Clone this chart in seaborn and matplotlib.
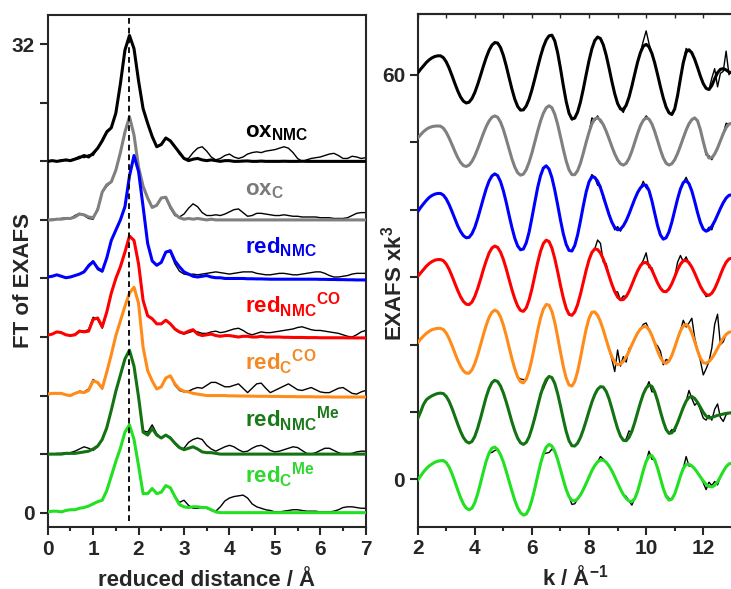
import numpy as np
import matplotlib
matplotlib.use("Agg")
import matplotlib.pyplot as plt
import seaborn as sns

# ---------------- data ----------------
# Left panel: FT of EXAFS, reduced distance grid (Angstrom)
r_grid = np.round(np.arange(0.0, 7.05, 0.1), 1)
ft_peak_r = 1.8            # dashed reference line position
ft_offsets = [24, 20, 16, 12, 8, 4, 0]
ft_fit = {
    "ox_nmc": [0.0, 0.05, 0.0, 0.05, 0.1, 0.05, 0.15, 0.25, 0.4, 0.3,
               0.55, 0.9, 1.4, 2.0, 2.3, 3.3, 5.3, 7.6, 8.6, 7.7,
               5.5, 3.6, 2.6, 1.7, 1.0, 1.15, 1.6, 1.4, 1.0, 0.6,
               0.2, 0.05, 0.15, 0.2, 0.1, 0.05, 0.1, 0.05, 0.0, 0.05,
               0.05, 0.0, 0.0, 0.02, 0.03, 0.0, 0.0, 0.02, 0.0, 0.0,
               0.0, 0.0, 0.01, 0.0, 0.0, 0.0, 0.01, 0.0, 0.0, 0.0,
               0.0, 0.0, 0.0, 0.0, 0.0, 0.0, 0.0, 0.0, 0.0, 0.0, 0.0],
    "ox_c": [0.0, 0.0, 0.05, 0.05, 0.1, 0.1, 0.2, 0.4, 0.35, 0.2,
             0.15, 0.7, 1.9, 2.4, 2.6, 3.4, 4.6, 6.0, 7.05, 5.8,
             3.6, 2.3, 1.5, 0.85, 1.0, 1.5, 1.55, 0.9, 0.4, 0.15,
             0.05, 0.1, 0.05, 0.1, 0.05, 0.0, 0.05, 0.0, 0.0, 0.0,
             0.0, 0.0, 0.0, 0.0, 0.0, 0.0, 0.0, 0.0, 0.0, 0.0,
             0.0, 0.0, 0.0, 0.0, 0.0, 0.0, 0.0, 0.0, 0.0, 0.0,
             0.0, 0.0, 0.0, 0.0, 0.0, 0.0, 0.0, 0.0, 0.0, 0.0, 0.0],
    "red_nmc": [0.1, 0.15, 0.25, 0.15, 0.05, 0.1, 0.2, 0.3, 0.45, 0.85,
                1.15, 0.7, 0.5, 1.4, 2.6, 3.3, 4.0, 4.9, 7.0, 8.4,
                7.3, 4.9, 2.4, 1.2, 0.9, 1.1, 1.8, 1.9, 1.2, 0.8,
                0.45, 0.3, 0.15, 0.1, 0.15, 0.2, 0.1, 0.05, 0.05, 0.0,
                0.0, 0.0, 0.0, 0.0, -0.02, -0.02, -0.03, -0.03, -0.04, -0.05,
                -0.05, -0.05, -0.05, -0.05, -0.05, -0.05, -0.05, -0.05, -0.05, -0.05,
                -0.06, -0.06, -0.07, -0.07, -0.08, -0.08, -0.09, -0.09, -0.1, -0.1, -0.1],
    "red_nmc_co": [0.13, 0.2, 0.35, 0.3, 0.15, 0.1, 0.15, 0.4, 0.35, 0.4,
                   1.2, 1.3, 0.7, 1.7, 3.0, 4.0, 4.8, 5.8, 6.9, 6.6,
                   5.0, 2.5, 1.45, 1.25, 0.9, 0.9, 1.15, 0.9, 0.55, 0.35,
                   0.25, 0.4, 0.5, 0.2, 0.1, 0.15, 0.2, 0.1, 0.05, 0.1,
                   0.1, 0.05, 0.0, 0.05, 0.05, 0.0, 0.0, 0.05, 0.0, 0.0,
                   0.0, 0.0, -0.02, -0.02, -0.03, -0.03, -0.03, -0.04, -0.04, -0.04,
                   -0.05, -0.05, -0.05, -0.05, -0.05, -0.05, -0.06, -0.06, -0.06, -0.06, -0.06],
    "red_c_co": [0.1, 0.15, 0.15, 0.15, 0.05, 0.0, 0.15, 0.25, 0.2, 0.35,
                 1.0, 0.9, 0.5, 1.6, 2.8, 4.1, 5.1, 6.1, 7.0, 7.4,
                 6.3, 3.3, 1.7, 1.0, 0.45, 0.6, 1.2, 1.35, 0.8, 0.45,
                 0.3, 0.25, 0.15, 0.1, 0.05, 0.0, 0.0, 0.0, 0.0, 0.0,
                 -0.02, -0.02, -0.03, -0.03, -0.04, -0.04, -0.05, -0.05, -0.05, -0.06,
                 -0.06, -0.06, -0.07, -0.07, -0.07, -0.08, -0.08, -0.08, -0.08, -0.09,
                 -0.09, -0.09, -0.09, -0.1, -0.1, -0.1, -0.1, -0.1, -0.1, -0.1, -0.1],
    "red_nmc_me": [0.0, 0.0, 0.0, 0.0, 0.05, 0.05, 0.05, 0.1, 0.15, 0.2,
                   0.35, 0.55, 1.0, 1.8, 3.0, 4.3, 5.4, 6.5, 7.1, 6.0,
                   3.9, 1.5, 1.3, 1.75, 1.3, 1.1, 1.3, 1.1, 0.75, 0.45,
                   0.3, 0.4, 0.5, 0.35, 0.15, 0.1, 0.1, 0.05, 0.0, 0.0,
                   0.0, 0.0, 0.0, 0.0, 0.0, 0.0, 0.0, 0.0, 0.0, 0.0,
                   0.0, 0.0, 0.0, 0.0, 0.0, 0.0, 0.0, 0.0, 0.0, 0.0,
                   0.0, 0.0, 0.0, 0.0, 0.0, 0.0, 0.0, 0.0, 0.0, 0.0, 0.0],
    "red_c_me": [0.05, 0.1, 0.1, 0.05, 0.15, 0.2, 0.2, 0.3, 0.35, 0.45,
                 0.6, 0.75, 0.85, 1.5, 2.5, 3.5, 4.4, 5.5, 6.0, 5.0,
                 3.2, 1.3, 1.3, 1.65, 1.3, 1.4, 1.85, 1.7, 1.1, 0.55,
                 0.4, 0.35, 0.4, 0.4, 0.35, 0.35, 0.2, 0.05, 0.0, 0.0,
                 0.0, 0.0, 0.0, 0.0, 0.0, 0.0, 0.0, 0.0, 0.0, 0.0,
                 0.0, 0.0, 0.0, 0.0, 0.0, 0.0, 0.0, 0.0, 0.0, 0.0,
                 0.0, 0.0, 0.0, 0.0, 0.0, 0.0, 0.0, 0.0, 0.0, 0.0, 0.0],
}
ft_exp = {
    "ox_nmc": [0.0, 0.05, 0.0, 0.1, 0.05, 0.1, 0.2, 0.35, 0.25, 0.45,
               0.4, 0.9, 1.5, 2.1, 2.3, 3.3, 5.3, 7.6, 8.6, 7.7,
               5.5, 3.6, 2.6, 1.7, 1.0, 1.2, 1.6, 1.4, 1.0, 0.5,
               0.2, 0.2, 0.6, 0.9, 1.0, 0.7, 0.3, 0.1, 0.2, 0.4,
               0.5, 0.3, 0.2, 0.3, 0.5, 0.6, 0.65, 0.6, 0.7, 0.75,
               0.8, 0.9, 1.0, 0.9, 0.6, 0.2, 0.0, 0.1, 0.2, 0.25,
               0.3, 0.4, 0.5, 0.55, 0.4, 0.2, 0.2, 0.35, 0.3, 0.2, 0.25],
    "ox_c": [0.0, 0.05, 0.05, 0.1, 0.15, 0.1, 0.3, 0.45, 0.3, 0.1,
             0.05, 0.8, 1.9, 2.3, 2.6, 3.4, 4.6, 6.0, 7.05, 5.8,
             3.6, 2.3, 1.5, 0.9, 1.0, 1.5, 1.5, 0.8, 0.3, 0.2,
             0.4, 0.8, 1.1, 0.9, 0.5, 0.3, 0.3, 0.35, 0.3, 0.4,
             0.55, 0.7, 0.75, 0.5, 0.25, 0.3, 0.45, 0.45, 0.4, 0.35,
             0.3, 0.3, 0.35, 0.3, 0.25, 0.25, 0.2, 0.2, 0.2, 0.2,
             0.15, 0.15, 0.15, 0.1, 0.1, 0.1, 0.15, 0.3, 0.45, 0.5, 0.5],
    "red_nmc": [0.1, 0.15, 0.25, 0.15, 0.05, 0.1, 0.2, 0.3, 0.5, 0.95,
                1.2, 0.6, 0.45, 1.4, 2.6, 3.3, 4.0, 4.9, 7.0, 8.4,
                7.3, 4.9, 2.4, 1.2, 0.9, 1.1, 1.8, 1.8, 1.0, 0.5,
                0.3, 0.25, 0.3, 0.25, 0.3, 0.35, 0.4, 0.45, 0.4, 0.35,
                0.3, 0.35, 0.4, 0.45, 0.45, 0.45, 0.35, 0.3, 0.25, 0.25,
                0.3, 0.35, 0.35, 0.3, 0.25, 0.25, 0.3, 0.35, 0.4, 0.45,
                0.45, 0.35, 0.2, 0.1, 0.1, 0.15, 0.2, 0.3, 0.35, 0.35, 0.35],
    "red_nmc_co": [0.13, 0.2, 0.35, 0.3, 0.15, 0.1, 0.2, 0.45, 0.4, 0.5,
                   1.35, 1.2, 0.6, 1.7, 3.0, 4.0, 4.8, 5.8, 6.9, 6.6,
                   5.0, 2.5, 1.45, 1.25, 0.9, 0.9, 1.15, 0.9, 0.5, 0.3,
                   0.2, 0.3, 0.4, 0.35, 0.25, 0.25, 0.35, 0.4, 0.3, 0.35,
                   0.45, 0.55, 0.6, 0.45, 0.25, 0.15, 0.25, 0.35, 0.3, 0.3,
                   0.35, 0.4, 0.45, 0.5, 0.55, 0.65, 0.7, 0.6, 0.5, 0.45,
                   0.45, 0.4, 0.35, 0.3, 0.25, 0.15, 0.05, 0.0, 0.15, 0.35, 0.45],
    "red_c_co": [0.1, 0.15, 0.15, 0.15, 0.05, 0.0, 0.15, 0.3, 0.25, 0.45,
                 1.1, 0.85, 0.45, 1.6, 2.8, 4.1, 5.1, 6.1, 7.0, 7.4,
                 6.3, 3.3, 1.7, 1.0, 0.45, 0.6, 1.2, 1.35, 0.7, 0.35,
                 0.25, 0.3, 0.45, 0.55, 0.5, 0.7, 0.9, 0.9, 0.75, 0.6,
                 0.6, 0.7, 0.8, 0.5, 0.2, 0.5, 0.8, 0.85, 0.5, 0.2,
                 0.35, 0.5, 0.65, 0.8, 0.6, 0.4, 0.35, 0.45, 0.55, 0.4,
                 0.25, 0.2, 0.2, 0.35, 0.5, 0.55, 0.35, 0.15, 0.1, 0.25, 0.35],
    "red_nmc_me": [0.0, 0.0, 0.05, 0.05, 0.1, 0.1, 0.2, 0.35, 0.5, 0.4,
                   0.25, 0.5, 1.0, 1.8, 3.0, 4.3, 5.4, 6.5, 7.1, 6.0,
                   3.9, 1.6, 1.5, 2.0, 1.4, 1.1, 1.3, 1.15, 0.7, 0.4,
                   0.4, 0.8, 1.0, 1.1, 1.0, 0.6, 0.35, 0.2, 0.35, 0.5,
                   0.6, 0.5, 0.3, 0.15, 0.2, 0.4, 0.55, 0.6, 0.45, 0.25,
                   0.15, 0.2, 0.3, 0.4, 0.5, 0.45, 0.25, 0.05, 0.0, 0.1,
                   0.25, 0.4, 0.4, 0.25, 0.1, 0.0, 0.0, 0.05, 0.15, 0.2, 0.2],
    "red_c_me": [0.05, 0.1, 0.1, 0.05, 0.15, 0.2, 0.2, 0.3, 0.35, 0.45,
                 0.6, 0.75, 0.85, 1.5, 2.5, 3.5, 4.4, 5.5, 6.0, 5.0,
                 3.2, 1.3, 1.3, 1.65, 1.3, 1.4, 1.85, 1.7, 1.1, 0.7,
                 0.85, 0.5, 0.3, 0.3, 0.35, 0.3, 0.15, 0.1, 0.4, 0.8,
                 1.0, 1.1, 1.15, 1.2, 1.0, 0.6, 0.4, 0.3, 0.2, 0.15,
                 0.05, 0.05, 0.1, 0.15, 0.2, 0.2, 0.15, 0.1, 0.1, 0.1,
                 0.05, 0.05, 0.05, 0.1, 0.2, 0.35, 0.4, 0.4, 0.35, 0.3, 0.3],
}

# Right panel: EXAFS k^3 weighted, k grid (1/Angstrom)
k_grid = np.round(np.arange(2.0, 13.05, 0.1), 1)
ex_offsets = [60, 50, 40, 30, 20, 10, 0]
ex_fit = {
    "ox_nmc": [0.25, 0.8, 1.3, 1.8, 2.2, 2.5, 2.7, 2.8, 2.8, 2.52,
               1.90, 0.99, -0.12, -1.28, -2.38, -3.30, -3.92, -4.19, -4.07, -3.53,
               -2.63, -1.45, -0.11, 1.27, 2.55, 3.63, 4.39, 4.77, 4.69, 4.03,
               2.86, 1.31, -0.43, -2.14, -3.63, -4.70, -5.25, -5.21, -4.64, -3.63,
               -2.24, -0.63, 1.07, 2.71, 4.11, 5.16, 5.77, 5.86, 5.02, 3.28,
               0.93, -1.64, -3.97, -5.72, -6.56, -6.42, -5.53, -4.04, -2.10, 0.04,
               2.10, 3.85, 5.06, 5.59, 5.36, 4.42, 2.9, 1.01, -1.0, -2.83,
               -4.27, -5.07, -5.15, -4.53, -3.33, -1.70, 0.11, 1.87, 3.29, 4.22,
               4.5, 4.12, 3.17, 1.75, 0.02, -1.79, -3.46, -4.81, -5.65, -5.9,
               -5.07, -3.10, -0.59, 1.78, 3.35, 3.7, 3.23, 2.28, 1.07, -0.22,
               -1.32, -2.02, -2.2, -1.6, -0.6, 0.3, 0.8, 0.9, 0.7, 0.4,
               0.3],
    "ox_c": [0.6, 1.1, 1.55, 1.9, 2.15, 2.3, 2.38, 2.4, 2.37, 2.07,
             1.46, 0.62, -0.35, -1.35, -2.27, -3.0, -3.46, -3.6, -3.39, -2.85,
             -2.03, -0.99, 0.15, 1.30, 2.33, 3.14, 3.69, 3.9, 3.69, 2.98,
             1.88, 0.47, -1.02, -2.48, -3.69, -4.53, -4.89, -4.74, -4.08, -2.98,
             -1.59, 0.01, 1.62, 3.10, 4.29, 5.09, 5.4, 5.11, 4.14, 2.66,
             0.83, -1.07, -2.80, -4.11, -4.81, -4.82, -4.22, -3.11, -1.61, 0.0,
             1.48, 2.73, 3.45, 3.6, 3.26, 2.59, 1.63, 0.52, -0.66, -1.74,
             -2.62, -3.2, -3.4, -3.14, -2.41, -1.33, -0.03, 1.29, 2.45, 3.24,
             3.6, 3.42, 2.72, 1.59, 0.24, -1.14, -2.34, -3.12, -3.4, -3.19,
             -2.6, -1.68, -0.55, 0.64, 1.79, 2.73, 3.35, 3.6, 3.17, 1.83,
             0.06, -1.52, -2.35, -2.29, -1.75, -0.87, 0.2, 1.27, 2.15, 2.69,
             2.8],
    "red_nmc": [-0.3, 0.3, 0.85, 1.35, 1.8, 2.1, 2.3, 2.4, 2.4, 2.15,
                1.58, 0.75, -0.26, -1.33, -2.39, -3.23, -3.86, -4.17, -4.11, -3.57,
                -2.63, -1.32, 0.16, 1.68, 3.10, 4.25, 5.0, 5.3, 5.04, 4.16,
                2.79, 1.08, -0.83, -2.66, -4.25, -5.38, -5.95, -5.84, -4.93, -3.35,
                -1.21, 1.05, 3.26, 5.01, 6.16, 6.5, 6.0, 4.75, 2.9, 0.73,
                -1.55, -3.60, -5.16, -6.05, -6.13, -5.32, -3.74, -1.66, 0.58, 2.63,
                4.13, 4.86, 4.78, 4.21, 3.25, 1.98, 0.6, -0.73, -1.87, -2.65,
                -2.99, -2.88, -2.41, -1.64, -0.65, 0.47, 1.56, 2.53, 3.23, 3.63,
                3.63, 2.84, 1.33, -0.54, -2.38, -3.76, -4.38, -4.17, -3.28, -1.85,
                -0.13, 1.59, 3.05, 4.01, 4.3, 3.85, 2.76, 1.22, -0.45, -1.91,
                -2.89, -3.2, -3.0, -2.47, -1.72, -0.79, 0.17, 1.03, 1.71, 2.12,
                2.2],
    "red_nmc_co": [0.1, 0.6, 1.1, 1.6, 2.0, 2.3, 2.5, 2.6, 2.6, 2.43,
                   1.93, 1.15, 0.16, -0.91, -1.97, -2.91, -3.61, -4.02, -4.08, -3.70,
                   -2.86, -1.70, -0.34, 1.12, 2.43, 3.58, 4.31, 4.6, 4.40, 3.70,
                   2.62, 1.22, -0.33, -1.87, -3.22, -4.29, -4.94, -5.08, -4.58, -3.40,
                   -1.75, 0.2, 2.13, 3.80, 4.98, 5.48, 5.26, 4.31, 2.75, 0.83,
                   -1.24, -3.12, -4.63, -5.52, -5.67, -5.16, -4.07, -2.52, -0.75, 1.03,
                   2.57, 3.66, 4.17, 4.09, 3.56, 2.66, 1.5, 0.21, -1.08, -2.17,
                   -2.96, -3.36, -3.33, -2.89, -2.13, -1.13, -0.07, 0.91, 1.69, 2.13,
                   2.16, 1.78, 1.05, 0.1, -0.87, -1.65, -2.12, -2.16, -1.75, -0.97,
                   0.05, 1.08, 1.91, 2.42, 2.47, 2.13, 1.47, 0.59, -0.40, -1.35,
                   -2.10, -2.58, -2.7, -2.39, -1.71, -0.76, 0.33, 1.37, 2.19, 2.69,
                   2.8],
    "red_c_co": [0.3, 0.8, 1.25, 1.65, 1.95, 2.2, 2.33, 2.4, 2.4, 2.22,
                 1.70, 0.88, -0.13, -1.22, -2.31, -3.22, -3.89, -4.25, -4.24, -3.75,
                 -2.81, -1.53, -0.06, 1.47, 2.87, 4.04, 4.79, 5.1, 4.87, 4.10,
                 2.89, 1.34, -0.39, -2.10, -3.60, -4.80, -5.52, -5.68, -5.14, -3.91,
                 -2.14, -0.07, 2.05, 3.91, 5.25, 5.94, 5.84, 4.90, 3.29, 1.15,
                 -1.13, -3.27, -4.98, -5.99, -6.16, -5.46, -3.98, -1.97, 0.24, 2.32,
                 3.89, 4.79, 4.84, 4.34, 3.40, 2.15, 0.74, -0.65, -1.82, -2.63,
                 -2.99, -2.90, -2.50, -1.84, -1.0, -0.05, 0.88, 1.71, 2.30, 2.64,
                 2.66, 2.21, 1.35, 0.24, -0.93, -1.93, -2.60, -2.8, -2.45, -1.61,
                 -0.42, 0.87, 2.01, 2.76, 3.0, 2.62, 1.71, 0.44, -0.90, -2.02,
                 -2.68, -2.78, -2.53, -2.04, -1.35, -0.57, 0.23, 0.95, 1.50, 1.83,
                 1.9],
    "red_nmc_me": [-1.0, 0.0, 1.1, 1.8, 2.15, 2.4, 2.6, 2.75, 2.8, 2.73,
                   2.31, 1.58, 0.56, -0.60, -1.78, -2.88, -3.78, -4.37, -4.6, -4.37,
                   -3.62, -2.40, -0.92, 0.69, 2.26, 3.51, 4.36, 4.7, 4.51, 3.86,
                   2.82, 1.50, 0.03, -1.48, -2.80, -3.87, -4.56, -4.8, -4.51, -3.69,
                   -2.39, -0.86, 0.85, 2.51, 3.85, 4.82, 5.27, 5.11, 4.24, 2.75,
                   0.90, -1.08, -2.89, -4.26, -5.0, -5.04, -4.61, -3.77, -2.61, -1.28,
                   0.13, 1.48, 2.57, 3.37, 3.76, 3.69, 3.06, 1.96, 0.52, -1.02,
                   -2.44, -3.56, -4.19, -4.26, -3.78, -2.85, -1.56, -0.07, 1.39, 2.66,
                   3.55, 3.98, 3.82, 2.99, 1.67, 0.07, -1.40, -2.60, -3.17, -3.08,
                   -2.51, -1.58, -0.45, 0.68, 1.61, 2.18, 2.3, 2.0, 1.44, 0.7,
                   -0.04, -0.6, -0.88, -0.8, -0.65, -0.5, -0.4, -0.3, -0.2, -0.15,
                   -0.1],
    "red_c_me": [-0.1, 0.5, 1.1, 1.6, 2.0, 2.3, 2.55, 2.7, 2.78, 2.8,
                 2.50, 1.84, 0.87, -0.30, -1.53, -2.68, -3.62, -4.25, -4.5, -4.25,
                 -3.43, -2.13, -0.53, 1.16, 2.74, 3.92, 4.65, 4.8, 4.43, 3.68,
                 2.59, 1.22, -0.25, -1.72, -3.09, -4.18, -4.93, -5.28, -5.14, -4.36,
                 -3.04, -1.36, 0.51, 2.31, 3.78, 4.80, 5.2, 4.96, 4.18, 2.97,
                 1.47, -0.08, -1.49, -2.55, -3.12, -3.16, -2.86, -2.29, -1.49, -0.58,
                 0.38, 1.31, 2.06, 2.60, 2.88, 2.85, 2.56, 2.0, 1.28, 0.40,
                 -0.52, -1.43, -2.23, -2.81, -3.19, -3.3, -2.84, -1.77, -0.25, 1.34,
                 2.67, 3.46, 3.54, 2.90, 1.69, 0.18, -1.35, -2.49, -3.07, -2.92,
                 -2.14, -0.88, 0.49, 1.63, 2.24, 2.26, 2.01, 1.58, 1.0, 0.38,
                 -0.22, -0.70, -1.01, -1.1, -0.88, -0.34, 0.41, 1.21, 1.89, 2.31,
                 2.4],
}
ex_exp = {
    "ox_nmc": [0.25, 0.8, 1.3, 1.8, 2.2, 2.5, 2.7, 2.8, 2.8, 2.52,
               1.90, 0.99, -0.12, -1.28, -2.38, -3.30, -3.92, -4.19, -4.07, -3.53,
               -2.63, -1.45, -0.11, 1.27, 2.55, 3.63, 4.39, 4.77, 4.69, 4.03,
               2.86, 1.31, -0.43, -2.14, -3.63, -4.70, -5.25, -5.21, -4.64, -3.63,
               -2.24, -0.63, 1.07, 2.71, 4.11, 5.16, 5.77, 5.86, 5.02, 3.28,
               0.93, -1.64, -3.97, -5.72, -6.7, -6.5, -5.53, -4.04, -2.10, 0.04,
               2.10, 3.85, 5.06, 5.59, 5.36, 4.42, 2.9, 1.01, -1.0, -2.83,
               -4.27, -5.07, -5.6, -4.53, -3.33, -1.70, 0.11, 1.87, 3.29, 5.0,
               6.5, 4.6, 3.17, 1.75, 0.02, -1.79, -3.46, -4.81, -5.65, -5.9,
               -5.07, -3.10, -0.59, 1.78, 3.9, 3.5, 3.4, 2.28, 1.07, -0.22,
               -1.32, -2.02, -2.2, -0.5, 0.9, -1.8, 0.2, 0.5, 3.5, 0.0,
               0.5],
    "ox_c": [0.6, 1.1, 1.55, 1.9, 2.15, 2.3, 2.38, 2.4, 2.37, 2.07,
             1.46, 0.62, -0.35, -1.35, -2.27, -3.0, -3.46, -3.6, -3.39, -2.85,
             -2.03, -0.99, 0.15, 1.30, 2.33, 3.14, 3.69, 3.9, 3.69, 2.98,
             1.88, 0.47, -1.02, -2.48, -3.69, -4.53, -4.89, -4.74, -4.08, -2.98,
             -1.59, 0.01, 1.62, 3.10, 4.29, 5.09, 5.4, 5.11, 4.14, 2.66,
             0.83, -1.07, -2.80, -4.11, -4.81, -4.82, -4.22, -3.11, -1.61, 0.0,
             1.48, 3.6, 3.2, 3.9, 3.0, 2.59, 1.63, 0.52, -0.66, -1.74,
             -2.62, -3.2, -3.4, -3.14, -2.41, -1.33, -0.03, 1.29, 2.45, 3.24,
             3.9, 3.42, 2.72, 1.59, 0.24, -1.14, -2.34, -3.12, -3.4, -3.19,
             -2.6, -1.68, -0.55, 0.64, 1.79, 2.73, 3.35, 3.6, 3.17, 1.83,
             0.06, -1.9, -2.0, -2.6, -1.75, -0.87, 0.2, 1.27, 2.8, 2.69,
             2.8],
    "red_nmc": [-0.3, 0.3, 0.85, 1.35, 1.8, 2.1, 2.3, 2.4, 2.4, 2.15,
                1.58, 0.75, -0.26, -1.33, -2.39, -3.23, -3.86, -4.17, -4.11, -3.57,
                -2.63, -1.32, 0.16, 1.68, 3.10, 4.25, 5.0, 5.3, 5.04, 4.16,
                2.79, 1.08, -0.83, -2.66, -4.25, -5.38, -5.95, -5.84, -4.93, -3.35,
                -1.21, 1.05, 3.26, 5.01, 6.16, 6.5, 6.0, 4.75, 2.9, 0.73,
                -1.55, -3.60, -5.16, -6.05, -6.13, -5.32, -3.74, -1.66, 0.58, 2.63,
                4.13, 5.2, 4.78, 3.6, 3.6, 1.6, 0.6, -0.73, -1.87, -3.0,
                -2.5, -3.2, -2.41, -1.64, -0.65, 0.47, 1.56, 2.53, 3.23, 4.2,
                3.2, 2.84, 1.33, -0.54, -2.38, -3.76, -4.38, -4.17, -3.28, -1.85,
                -0.13, 1.59, 3.05, 4.01, 4.8, 3.85, 2.76, 1.22, -0.45, -1.91,
                -2.89, -3.2, -2.6, -3.0, -1.72, -0.79, 0.17, 1.03, 1.71, 2.12,
                2.2],
    "red_nmc_co": [0.1, 0.6, 1.1, 1.6, 2.0, 2.3, 2.5, 2.6, 2.6, 2.43,
                   1.93, 1.15, 0.16, -0.91, -1.97, -2.91, -3.61, -4.02, -4.08, -3.70,
                   -2.86, -1.70, -0.34, 1.12, 2.43, 3.58, 4.31, 4.6, 4.40, 3.70,
                   2.62, 1.22, -0.33, -1.87, -3.22, -4.29, -4.94, -5.08, -4.58, -3.40,
                   -1.75, 0.2, 2.13, 3.80, 4.98, 5.48, 5.26, 4.31, 2.75, 0.83,
                   -1.24, -3.12, -4.63, -5.52, -5.67, -5.16, -4.07, -2.52, -0.75, 1.03,
                   2.57, 3.66, 4.17, 5.5, 5.0, 2.2, 2.0, 0.21, -1.08, -2.17,
                   -2.2, -3.4, -2.8, -2.89, -2.13, -1.13, -0.07, 0.91, 1.69, 2.5,
                   3.6, 1.4, 1.4, 0.1, -0.87, -1.65, -2.12, -2.16, -1.75, -0.97,
                   0.05, 2.2, 3.2, 2.3, 3.0, 2.0, 1.47, 0.59, -0.40, -1.35,
                   -2.10, -2.9, -2.7, -2.39, -1.71, -0.76, 0.33, 1.37, 2.19, 2.69,
                   2.8],
    "red_c_co": [0.3, 0.8, 1.25, 1.65, 1.95, 2.2, 2.33, 2.4, 2.4, 2.22,
                 1.70, 0.88, -0.13, -1.22, -2.31, -3.22, -3.89, -4.25, -4.24, -3.75,
                 -2.81, -1.53, -0.06, 1.47, 2.87, 4.04, 4.79, 5.1, 4.87, 4.10,
                 2.89, 1.34, -0.39, -2.10, -3.60, -4.80, -5.1, -5.2, -5.14, -3.91,
                 -2.14, -0.07, 2.05, 3.91, 5.25, 5.94, 5.84, 4.90, 3.29, 1.15,
                 -1.13, -3.27, -4.98, -5.99, -6.16, -5.46, -3.98, -1.97, 0.24, 2.32,
                 3.89, 4.79, 4.84, 4.34, 3.40, 2.15, 0.74, -0.65, -2.2, -4.0,
                 -0.8, -3.2, -1.8, -2.6, -0.6, -0.05, 0.88, 1.71, 2.30, 3.0,
                 3.2, 2.21, 1.35, 0.24, -0.2, -1.0, -3.0, -2.2, -2.45, -1.61,
                 -0.42, 0.87, 2.01, 3.6, 2.6, 3.2, 3.9, 1.0, -0.90, -2.4,
                 -4.5, -3.6, -2.53, -0.5, 3.0, 4.5, 0.0, 0.4, 1.50, 1.83,
                 1.9],
    "red_nmc_me": [-1.0, 0.0, 1.1, 1.8, 2.15, 2.4, 2.6, 2.75, 2.8, 2.73,
                   2.31, 1.58, 0.56, -0.60, -1.78, -2.88, -3.78, -4.37, -4.6, -4.37,
                   -3.62, -2.40, -0.92, 0.69, 2.26, 3.51, 4.36, 4.7, 4.51, 3.86,
                   2.82, 1.50, 0.03, -1.48, -2.80, -3.87, -4.56, -4.8, -4.51, -3.69,
                   -2.39, -0.86, 0.85, 2.8, 3.4, 4.4, 5.27, 5.11, 4.24, 2.75,
                   0.90, -1.08, -2.89, -4.26, -5.0, -5.04, -4.61, -3.77, -2.61, -1.28,
                   0.13, 1.48, 2.57, 3.37, 3.76, 3.69, 3.06, 1.96, 0.52, -1.02,
                   -2.44, -3.56, -4.19, -4.0, -2.8, -3.0, -1.56, -0.07, 1.39, 2.66,
                   3.55, 4.5, 3.0, 2.99, 1.67, 0.07, -1.40, -2.60, -3.17, -2.6,
                   -2.9, -1.58, -0.45, 0.68, 1.61, 3.2, 2.0, 1.0, 1.44, 0.3,
                   -0.9, -1.2, -0.5, -1.2, 0.4, 1.2, -0.8, -1.4, -0.4, -0.15,
                   -0.1],
    "red_c_me": [-0.1, 0.5, 1.1, 1.6, 2.0, 2.3, 2.55, 2.7, 2.78, 2.8,
                 2.50, 1.84, 0.87, -0.30, -1.53, -2.68, -3.62, -4.25, -4.5, -4.25,
                 -3.43, -2.13, -0.53, 1.16, 2.74, 3.92, 4.0, 4.3, 4.43, 3.68,
                 2.59, 1.22, -0.25, -1.72, -3.09, -4.18, -4.93, -5.28, -5.14, -4.36,
                 -3.04, -1.36, 0.51, 2.31, 3.78, 3.9, 4.0, 4.5, 4.18, 2.97,
                 1.47, -0.08, -1.49, -2.55, -3.7, -3.6, -2.86, -2.29, -1.49, -0.58,
                 0.38, 1.31, 2.06, 2.60, 3.4, 3.0, 2.56, 2.0, 1.28, 0.40,
                 -0.52, -1.43, -2.23, -2.5, -3.19, -3.8, -2.84, -1.77, -0.25, 1.34,
                 2.67, 4.2, 3.0, 2.90, 1.69, 0.18, -1.35, -2.3, -2.8, -2.92,
                 -2.14, -0.88, 0.49, 1.63, 3.4, 2.0, 2.01, 1.58, 1.0, 0.38,
                 -0.5, -1.5, -0.4, -0.9, -0.3, -0.8, 0.41, 1.21, 1.89, 2.31,
                 2.4],
}

series_keys = ["ox_nmc", "ox_c", "red_nmc", "red_nmc_co", "red_c_co",
               "red_nmc_me", "red_c_me"]
line_colors = ["#000000", "#808080", "#0000ff", "#ff0000", "#ff8c1a",
               "#137313", "#22e022"]
label_colors = ["#000000", "#7a7a7a", "#0000ee", "#ff0000", "#f28a24",
                "#1a7a1a", "#2ed82e"]
label_texts = [r"$\mathbf{ox}_{\mathbf{NMC}}$",
               r"$\mathbf{ox}_{\mathbf{C}}$",
               r"$\mathbf{red}_{\mathbf{NMC}}$",
               r"$\mathbf{red}_{\mathbf{NMC}}{}^{\mathbf{CO}}$",
               r"$\mathbf{red}_{\mathbf{C}}{}^{\mathbf{CO}}$",
               r"$\mathbf{red}_{\mathbf{NMC}}{}^{\mathbf{Me}}$",
               r"$\mathbf{red}_{\mathbf{C}}{}^{\mathbf{Me}}$"]
label_x = 4.34
label_y = [25.66, 21.70, 17.74, 13.65, 9.75, 5.85, 2.02]

# ---------------- style ----------------
sns.set_style("ticks")
plt.rcParams["font.family"] = ["Liberation Sans", "DejaVu Sans"]
plt.rcParams["font.weight"] = "bold"
plt.rcParams["mathtext.fontset"] = "custom"
plt.rcParams["mathtext.rm"] = "Liberation Sans:bold"
plt.rcParams["mathtext.bf"] = "Liberation Sans:bold"
plt.rcParams["mathtext.it"] = "Liberation Sans:bold"
plt.rcParams["mathtext.sf"] = "Liberation Sans:bold"
plt.rcParams["axes.linewidth"] = 1.5
plt.rcParams["axes.unicode_minus"] = True

W, H = 731, 589
fig = plt.figure(figsize=(W / 100, H / 100), dpi=100)
axL = fig.add_axes([47.7 / W, 1 - 527.3 / H, 318.0 / W, 512.3 / H])
axR = fig.add_axes([417.7 / W, 1 - 526.7 / H, 328.4 / W, 512.7 / H])

fit_lw = 2.2
exp_lw = 1.0

# ---------------- left panel ----------------
for key, off, col in zip(series_keys, ft_offsets, line_colors):
    sns.lineplot(x=r_grid, y=np.array(ft_exp[key]) + off, ax=axL,
                 color="black", lw=exp_lw, sort=False, estimator=None, zorder=2)
    sns.lineplot(x=r_grid, y=np.array(ft_fit[key]) + off, ax=axL,
                 color=col, lw=fit_lw, sort=False, estimator=None, zorder=3)

axL.vlines(ft_peak_r, -0.6, 34, colors="black", linestyles=(0, (3.2, 2.2)),
           lw=1.3, zorder=4)

for txt, y, c in zip(label_texts, label_y, label_colors):
    axL.text(label_x, y, txt, color=c, fontsize=16, ha="left", va="baseline",
             zorder=5)

axL.set_xlim(0, 7)
axL.set_ylim(-1, 34)
axL.set_xticks(range(0, 8))
axL.set_xticks(np.arange(0.5, 7, 1.0), minor=True)
axL.set_yticks(range(0, 33, 4))
axL.set_yticklabels(["0"] + [""] * 7 + ["32"])
axL.tick_params(axis="both", which="major", direction="out", length=6,
                width=1.5, labelsize=15, pad=3)
axL.tick_params(axis="x", which="minor", direction="out", length=3, width=1.5)
for sp in axL.spines.values():
    sp.set_visible(True)
    sp.set_linewidth(1.5)
axL.set_xlabel("")
axL.set_ylabel("")

# ---------------- right panel ----------------
for key, off, col in zip(series_keys, ex_offsets, line_colors):
    sns.lineplot(x=k_grid, y=np.array(ex_exp[key]) + off, ax=axR,
                 color="black", lw=exp_lw, sort=False, estimator=None, zorder=2)
    sns.lineplot(x=k_grid, y=np.array(ex_fit[key]) + off, ax=axR,
                 color=col, lw=fit_lw, sort=False, estimator=None, zorder=3)

axR.set_xlim(2, 13.5)
axR.set_ylim(-7, 69)
axR.set_xticks(range(2, 13, 2))
axR.set_xticks(range(3, 14, 2), minor=True)
axR.set_yticks(range(0, 61, 10))
axR.set_yticklabels(["0"] + [""] * 5 + ["60"])
axR.tick_params(axis="both", which="major", direction="out", length=6,
                width=1.5, labelsize=15, pad=3)
axR.tick_params(axis="x", which="minor", direction="out", length=3, width=1.5)
for sp in axR.spines.values():
    sp.set_visible(True)
    sp.set_linewidth(1.5)
secx = axR.secondary_xaxis("top")
secx.set_xticks(range(2, 14))
secx.tick_params(direction="in", length=3, width=1.0, labeltop=False)
axR.set_xlabel("")
axR.set_ylabel("")

# ---------------- axis labels ----------------
fig.text(24 / W, 1 - 280 / H, "FT of EXAFS", rotation=90, ha="center",
         va="center", fontsize=16, fontweight="bold")
fig.text(206 / W, 3.5 / H, "reduced distance / Å", ha="center",
         va="baseline", fontsize=16, fontweight="bold")
fig.text(394 / W, 1 - 283 / H, r"EXAFS xk$^{\mathbf{3}}$", rotation=90,
         ha="center", va="center", fontsize=16, fontweight="bold")
fig.text(575 / W, 3.5 / H, r"k / Å$^{\mathbf{-1}}$", ha="center",
         va="baseline", fontsize=16, fontweight="bold")

fig.savefig("out.png", dpi=100)
